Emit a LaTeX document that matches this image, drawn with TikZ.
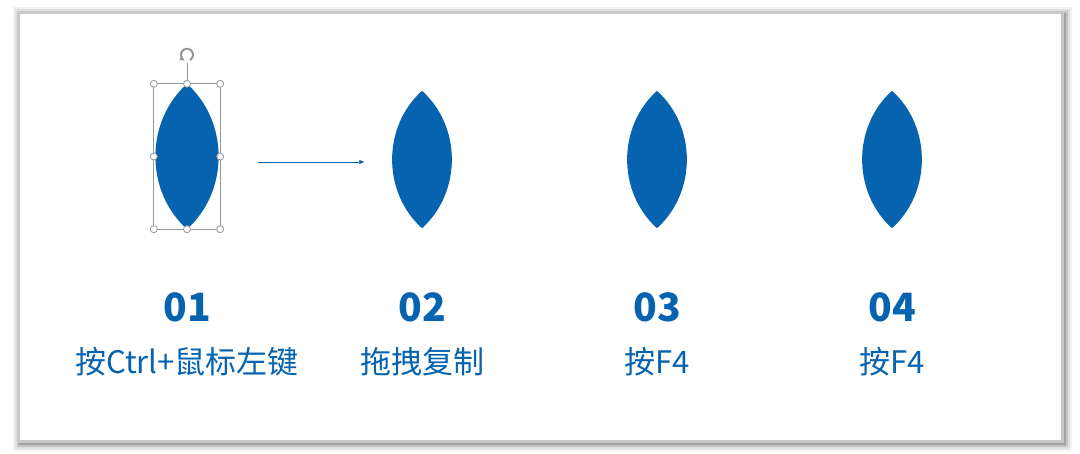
\documentclass[tikz,border=0pt]{standalone}
\usepackage{fontspec}
\newfontfamily\cjk{Noto Sans CJK SC}
\usetikzlibrary{arrows.meta, positioning}
\definecolor{lensblue}{RGB}{6,99,176}
\definecolor{framegray}{RGB}{200,200,200}
\definecolor{handlegray}{RGB}{150,150,150}

\begin{document}
\begin{tikzpicture}[
        x=1pt, y=-1pt, node distance=55pt, on grid, >={Triangle[length=5pt,width=4pt]},
        lens/.style={minimum width=61pt, minimum height=137pt, inner sep=0pt},
        number/.style={font=\cjk\bfseries\fontsize{39}{39}\selectfont, text=lensblue},
        caption/.style={font=\cjk\fontsize{31}{31}\selectfont, text=lensblue},
        handle/.style={circle, draw=handlegray, fill=white, line width=0.8pt, minimum size=7pt, inner sep=0pt},
        ]
        \useasboundingbox (0,0) rectangle (1080,453);
        % frame with a soft shadow
        \foreach \s/\o in {8/0.05, 6/0.08, 4/0.12, 2/0.18}
          \fill[black, opacity=\o] (18-\s+3,12-\s+3) rectangle (1062+\s+2,441+\s+2);
        \fill[white] (18,12) rectangle (1062,441);
        \draw[framegray, line width=3pt] (18,12) rectangle (1062,441);

        % lenses
        \node[lens, minimum width=66pt, minimum height=145pt] (lens1) at (187,156.5) {};
        \node[lens] (lens2) at (422,159.5) {};
        \node[lens] (lens3) at (657,159.5) {};
        \node[lens] (lens4) at (892,159.5) {};
        \foreach \l in {lens1, lens2, lens3, lens4}
          \fill[lensblue] (\l.north) to[bend left=48] (\l.south) to[bend left=48] (\l.north);

        % selection box of the first lens
        \draw[handlegray, line width=0.8pt] (lens1.north west) rectangle (lens1.south east);
        \coordinate (rot) at ([yshift=29pt]lens1.north);
        \draw[handlegray, line width=0.8pt] (lens1.north) -- ([yshift=21pt]lens1.north);
        \draw[handlegray, line width=2pt, -{Triangle[length=4pt,width=5pt]}]
          ([shift={(-60:6pt)}]rot) arc[start angle=-60, end angle=240, radius=6pt];
        \foreach \a in {north west, north, north east, west, east, south west, south, south east}
          \node[handle] at (lens1.\a) {};

        \draw[->, lensblue, line width=0.6pt, shorten <=38pt, shorten >=27pt]
          ([yshift=-5.5pt]lens1.east) -- ([yshift=-2.5pt]lens2.west);

        % step numbers and captions
        \node[number] (num1) at (187,307) {01};
        \node[number] (num2) at (422,307) {02};
        \node[number] (num3) at (657,307) {03};
        \node[number] (num4) at (892,307) {04};
        \node[caption] (cap1) [below=of num1] {按Ctrl+鼠标左键};
        \node[caption] (cap2) [below=of num2] {拖拽复制};
        \node[caption] (cap3) [below=of num3] {按F4};
        \node[caption] (cap4) [below=of num4] {按F4};
      \end{tikzpicture}
\end{document}
